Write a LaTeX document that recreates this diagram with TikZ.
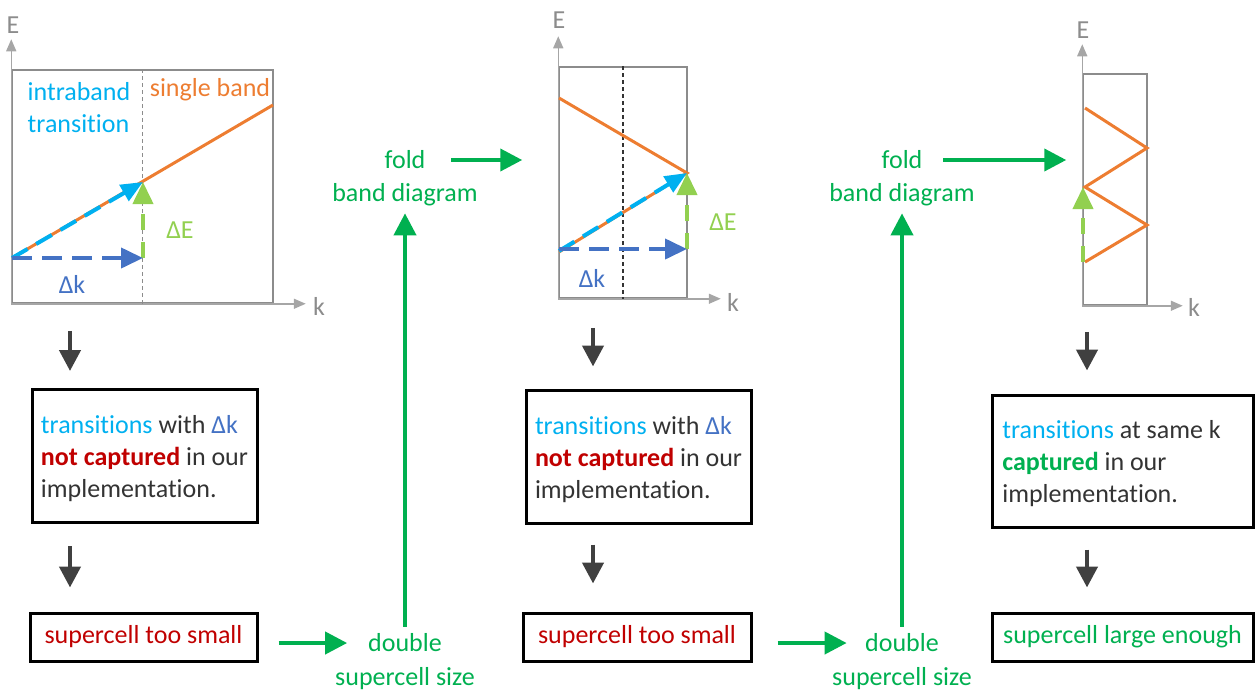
\documentclass[tikz,border=0pt]{standalone}
\usepackage{fontspec}
\setmainfont{Carlito}[Ligatures=NoCommon]
\usetikzlibrary{arrows.meta}

\definecolor{trcyan}{HTML}{00B0F0}
\definecolor{dkblue}{HTML}{4472C4}
\definecolor{degreen}{HTML}{92D050}
\definecolor{bandorange}{HTML}{ED7D31}
\definecolor{capred}{HTML}{C00000}
\definecolor{okgreen}{HTML}{00B050}
\definecolor{axgray}{HTML}{A6A6A6}
\definecolor{frgray}{HTML}{8C8C8C}
\definecolor{txgray}{HTML}{333333}
\definecolor{argray}{HTML}{404040}

\begin{document}
\begin{tikzpicture}[x=0.5pt, y=-0.5pt,
        font=\fontsize{13pt}{16pt}\selectfont,
        frame/.style = {draw=frgray, line width=0.75pt, inner sep=0pt},
        axis/.style = {draw=axgray, line width=0.75pt, -{Triangle[length=6pt,width=5pt]}},
        axlbl/.style = {text=frgray},
        band/.style = {draw=bandorange, line width=1.5pt},
        divider/.style = {line width=0.6pt, dash pattern=on 2pt off 1.5pt},
        trans/.style = {draw=trcyan, line width=2pt, dash pattern=on 9pt off 5pt, -{Triangle[length=11pt,width=9pt]}},
        dk/.style = {draw=dkblue, line width=2pt, dash pattern=on 10pt off 5pt, -{Triangle[length=11pt,width=10pt]}},
        dE/.style = {draw=degreen, line width=2pt, dash pattern=on 8pt off 6pt, -{Triangle[length=11pt,width=10pt]}},
        tbox/.style = {draw=black, line width=1.5pt, align=left, text=txgray, inner xsep=0pt},
        sbox/.style = {draw=black, line width=1.5pt, minimum height=24pt, inner sep=0pt},
        down/.style = {draw=argray, line width=2.2pt, -{Triangle[length=10.5pt,width=10.5pt]}},
        flow/.style = {draw=okgreen, line width=2pt, -{Triangle[length=11pt,width=11pt]}},
        glbl/.style = {text=okgreen}]
            \useasboundingbox (0,0) rectangle (1256,691);

            % Band diagram 1
            \node[frame, minimum width=130.5pt, minimum height=116.5pt] (f1) at (142.5,186.5) {};
            \draw[axis] (f1.south west) -- ([yshift=15pt]f1.north west);
            \draw[axis] (f1.south west) -- ([xshift=16pt]f1.south east);
            \node[axlbl] (E1) at (13,25) {E};
            \node[axlbl] (k1) at (319,306) {k};
            \draw[divider, draw=frgray] (f1.north) -- (f1.south);
            \draw[band] (12,258) -- (273,105);
            \draw[trans] (12,258) -- (143,182);
            \draw[dE] (143,258) -- (143,182);
            \draw[dk] (12,258) -- (143,258);
            \node[text=trcyan, align=left] (ib1) at (79,108) {intraband\\transition};
            \node[text=bandorange] (sb1) at (210,90) {single band};
            \node[text=degreen] (dE1) at (180,230) {ΔE};
            \node[text=dkblue] (dk1) at (72,284) {Δk};

            % Band diagram 2
            \node[frame, minimum width=64pt, minimum height=115.5pt] (f2) at (623,182.5) {};
            \draw[axis] (f2.south west) -- ([yshift=15pt]f2.north west);
            \draw[axis] (f2.south west) -- ([xshift=16.5pt]f2.south east);
            \node[axlbl] (E2) at (559,20) {E};
            \node[axlbl] (k2) at (733,302) {k};
            \draw[divider, draw=black!80] (f2.north) -- (f2.south);
            \draw[band] (559,98) -- (687,173) -- (559,252);
            \draw[trans] (559,251) -- (687,173);
            \draw[dE] (687,249) -- (687,173);
            \draw[dk] (559,249) -- (687,249);
            \node[text=degreen] (dE2) at (723,222) {ΔE};
            \node[text=dkblue] (dk2) at (592,278) {Δk};

            % Band diagram 3
            \node[frame, minimum width=32pt, minimum height=115.5pt] (f3) at (1115,189.5) {};
            \draw[axis] (f3.south west) -- ([yshift=14.5pt]f3.north west);
            \draw[axis] (f3.south west) -- ([xshift=17.5pt]f3.south east);
            \node[axlbl] (E3) at (1083,30) {E};
            \node[axlbl] (k3) at (1194,307) {k};
            \draw[band] (1085,108) -- (1147,148) -- (1085,187) -- (1147,225) -- (1085,262);
            \draw[dE] (1083,262) -- (1083,187);

            % Boxes
            \node[tbox, minimum width=112.5pt, minimum height=66.5pt] (t1) at (144.5,456)
                {\rule{0pt}{12pt}\textcolor{trcyan}{transitions} with \textcolor{dkblue}{Δk}\\\textcolor{capred}{\textbf{not captured}} in our\\implementation.};
            \node[tbox, minimum width=112.5pt, minimum height=66.5pt] (t2) at (638.5,456.5)
                {\rule{0pt}{12pt}\textcolor{trcyan}{transitions} with \textcolor{dkblue}{Δk}\\\textcolor{capred}{\textbf{not captured}} in our\\implementation.};
            \node[tbox, minimum width=130.5pt, minimum height=66pt] (t3) at (1122.5,461)
                {\rule{0pt}{12pt}\textcolor{trcyan}{transitions} at same k\hspace*{11pt}\\\textcolor{okgreen}{\textbf{captured}} in our\\implementation.};

            \node[sbox, minimum width=113.5pt, text=capred] (s1) at (143.5,637) {supercell too small};
            \node[sbox, minimum width=114pt, text=capred] (s2) at (637,637) {supercell too small};
            \node[sbox, minimum width=130.5pt, text=okgreen] (s3) at (1122.5,637) {supercell large enough};

            % Green labels
            \node[glbl] (fo1) at (405,160) {fold};
            \node[glbl] (bd1) at (405,195) {band diagram};
            \node[glbl] (db1) at (405,643) {double};
            \node[glbl] (sc1) at (405,679) {supercell size};
            \node[glbl] (fo2) at (902,160) {fold};
            \node[glbl] (bd2) at (902,195) {band diagram};
            \node[glbl] (db2) at (902,643) {double};
            \node[glbl] (sc2) at (902,679) {supercell size};

            % Arrows
            \draw[down, shorten <=13.5pt, shorten >=8.5pt] (f1.south -| 70,0) -- (t1.north -| 70,0);
            \draw[down, shorten <=11pt, shorten >=12pt] (t1.south -| 70,0) -- (s1.north -| 70,0);
            \draw[down, shorten <=14.5pt, shorten >=11pt] (f2.south -| 593,0) -- (t2.north -| 593,0);
            \draw[down, shorten <=10pt, shorten >=14pt] (t2.south -| 593,0) -- (s2.north -| 593,0);
            \draw[down, shorten <=13pt, shorten >=11.5pt] (f3.south -| 1087,0) -- (t3.north -| 1087,0);
            \draw[down, shorten <=10.5pt, shorten >=12pt] (t3.south -| 1087,0) -- (s3.north -| 1087,0);

            \draw[flow, shorten <=10pt, shorten >=7pt] (s1.east |- db1) -- (db1.west);
            \draw[flow] (db1.north) -- (bd1.south);
            \draw[flow, shorten <=9.5pt, shorten >=18pt] (fo1.east) -- (fo1.east -| f2.west);
            \draw[flow, shorten <=12.5pt, shorten >=5.75pt] (s2.east |- db2) -- (db2.west);
            \draw[flow] (db2.north) -- (bd2.south);
            \draw[flow, shorten <=7pt, shorten >=8pt] (fo2.east) -- (fo2.east -| f3.west);
        \end{tikzpicture}
\end{document}
